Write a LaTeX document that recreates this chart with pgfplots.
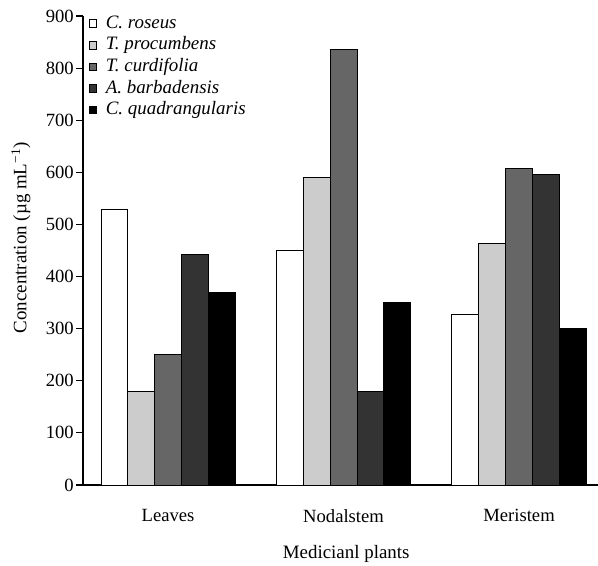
\documentclass[border=0pt]{standalone}
\usepackage{fontspec}
\setmainfont{Liberation Serif}
\usepackage{pgfplots}
\pgfplotsset{compat=1.18}
\begin{document}
\begin{tikzpicture}
\begin{axis}[
  scale only axis,
  width=515bp, height=469bp,
  at={(0,0)}, anchor=south west,
  axis lines*=left,
  axis line style={line width=1.2bp},
  ybar=0pt, bar width=26.86bp,
  xmin=-0.485, xmax=2.45,
  ymin=0, ymax=900,
  ytick={0,100,...,900},
  xtick={0,1,2},
  xticklabels={Leaves,Nodalstem,Meristem},
  xtick style={draw=none},
  ytick style={line width=1.2bp, black},
  major tick length=7bp,
  tick align=outside,
  /pgf/number format/assume math mode=true,
  yticklabel={\pgfmathprintnumber{\tick}},
  tick label style={font=\fontsize{18.7}{22}\selectfont},
  yticklabel style={font=\fontsize{18.7}{22}\selectfont, inner sep=2bp},
  xticklabel style={yshift=-14bp},
  label style={font=\fontsize{19}{22}\selectfont},
  xlabel={Medicianl plants},
  ylabel={Concentration (µg mL\textsuperscript{\char"2212 1})},
  xlabel style={at={(axis description cs:0.511,0)}, anchor=north, yshift=-57bp},
  ylabel style={at={(axis description cs:-0.1204,0.527)}, anchor=center},
  legend style={at={(axis description cs:0,1)}, anchor=north west, draw=none, fill=none,
    xshift=5.5bp, yshift=2bp, inner sep=0pt, row sep=2.6bp,
    font=\fontsize{19}{22}\selectfont\itshape,
    nodes={inner sep=1bp, text height=13bp, text depth=4bp},
    /tikz/every odd column/.append style={column sep=7.5bp}},
  legend cell align=left,
  legend image code/.code={\draw[#1, line width=1bp] (0bp,-3.8bp) rectangle (7.6bp,3.8bp);},
  every axis plot/.append style={draw=black, line width=0.9bp},
]
\addplot[fill=white] coordinates {(0,529) (1,450) (2,327)};
\addplot[fill=black!20] coordinates {(0,180) (1,590) (2,463)};
\addplot[fill=black!60] coordinates {(0,250) (1,835) (2,607)};
\addplot[fill=black!80] coordinates {(0,443) (1,180) (2,595)};
\addplot[fill=black] coordinates {(0,370) (1,350) (2,300)};
\legend{C. roseus, T. procumbens, T. curdifolia, A. barbadensis, C. quadrangularis}
\end{axis}
\pgfresetboundingbox
\path[use as bounding box] (-83bp,-81bp) rectangle (515bp,485bp);
\end{tikzpicture}
\end{document}
